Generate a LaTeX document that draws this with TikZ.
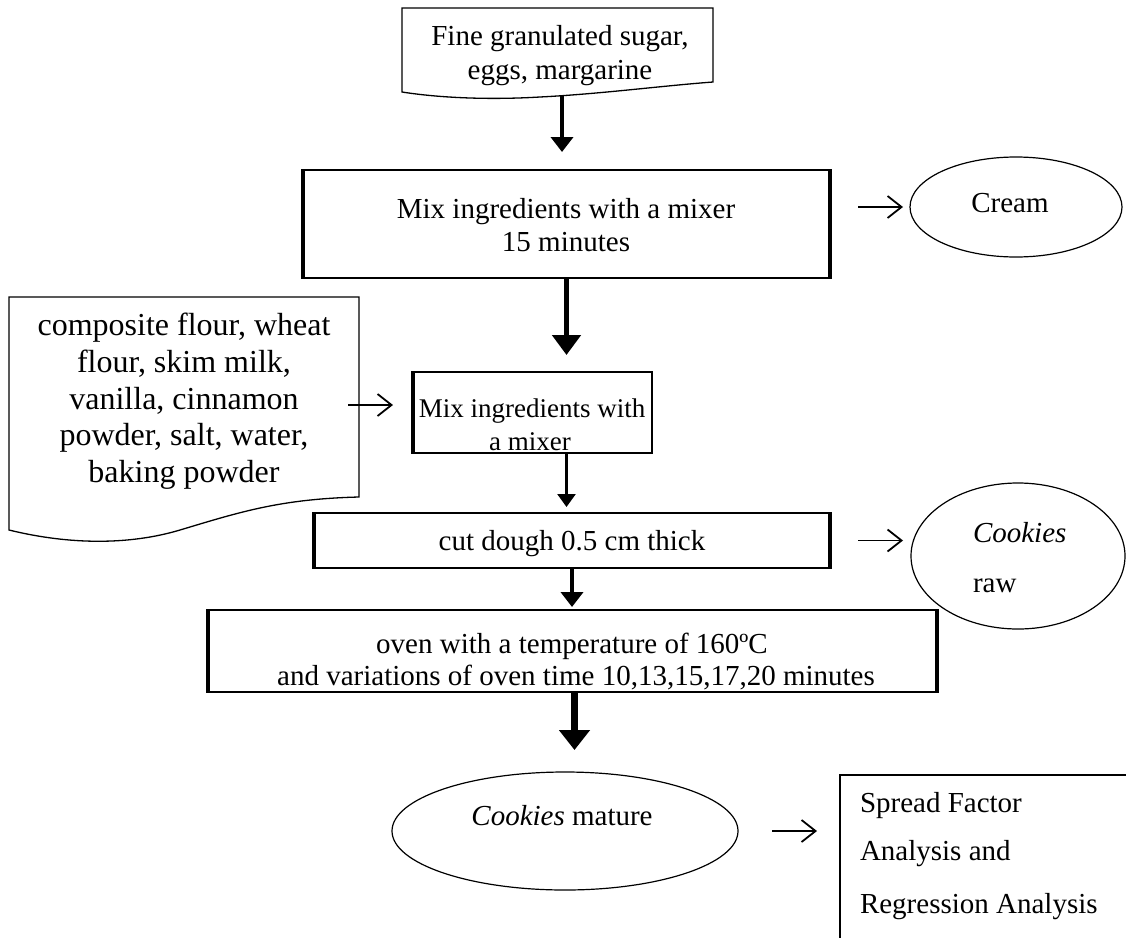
\documentclass[tikz,border=0pt]{standalone}
\usepackage{fontspec}
\setmainfont{Liberation Serif}
\usetikzlibrary{arrows.meta,shapes.geometric}
\newcommand\boxsides[1]{%
  \draw[line width=3.2pt] ([xshift=1pt]#1.north west) -- ([xshift=1pt]#1.south west);
  \draw[line width=3.2pt] ([xshift=-1pt]#1.north east) -- ([xshift=-1pt]#1.south east);
  \draw[line width=2.2pt] (#1.south west) -- (#1.south east);}
\begin{document}
\begin{tikzpicture}[x=1pt,y=-1pt,
  every node/.style={inner sep=0pt, outer sep=0pt},
  txt/.style={font=\fontsize{29}{33}\selectfont, anchor=base},
  bigtxt/.style={font=\fontsize{32}{36}\selectfont, anchor=base},
  midtxt/.style={font=\fontsize{27}{31}\selectfont, anchor=base},
  procbox/.style={draw, line width=1.2pt, rectangle},
  oval/.style={draw, line width=1.2pt, ellipse},
  docshape/.style={draw, line width=1.3pt},
  flow/.style={line width=#1, -{Triangle[length=15pt,width=22pt]}},
  sidearrow/.style={line width=1.8pt, -{Straight Barb[length=14pt,width=22pt]}}]
\useasboundingbox (0,0) rectangle (1126,937);

% document shapes
\draw[docshape] (402,8) -- (713,8) -- (713,82)
  .. controls (660,86) and (600,94) .. (540,97)
  .. controls (490,100) and (440,98) .. (402,92) -- cycle;
\node[txt] (t1a) at (560,45) {Fine granulated sugar,};
\node[txt] (t1b) at (560,79) {eggs, margarine};
\coordinate (topdocb) at (562,96);

\draw[docshape] (9,297) -- (359,297) -- (359,497)
  .. controls (280,499) and (240,512) .. (180,530)
  .. controls (130,545) and (70,545) .. (9,530) -- cycle;
\node[bigtxt] (l1) at (184,335) {composite flour, wheat};
\node[bigtxt] (l2) at (184,372) {flour, skim milk,};
\node[bigtxt] (l3) at (184,409) {vanilla, cinnamon};
\node[bigtxt] (l4) at (184,445) {powder, salt, water,};
\node[bigtxt] (l5) at (184,482) {baking powder};
\coordinate (leftdoce) at (348,405);

% process boxes
\node[procbox, minimum width=529pt, minimum height=108pt] (mix1) at (566.5,224) {};
\boxsides{mix1}
\node[txt] (m1a) at (566,218) {Mix ingredients with a mixer};
\node[txt] (m1b) at (566,251) {15 minutes};

\node[procbox, minimum width=240pt, minimum height=81pt] (mix2) at (532,412.5) {};
\draw[line width=3.2pt] ([xshift=1pt]mix2.north west) -- ([xshift=1pt]mix2.south west);
\node[midtxt] (m2a) at (532,417) {Mix ingredients with};
\node[midtxt] (m2b) at (530,450) {a mixer};

\node[procbox, minimum width=518pt, minimum height=55pt] (cut) at (572,540.5) {};
\boxsides{cut}
\node[txt] (c1) at (572,550) {cut dough 0.5 cm thick};

\node[procbox, minimum width=731pt, minimum height=82pt] (oven) at (572.5,651) {};
\boxsides{oven}
\node[txt] (o1) at (572,653) {oven with a temperature of 160ºC};
\node[txt] (o2) at (576,685) {and variations of oven time 10,13,15,17,20 minutes};

% ellipses
\node[oval, minimum width=212pt, minimum height=100pt] (cream) at (1016,207) {};
\node[txt] (cr) at (1010,212) {Cream};
\node[oval, minimum width=214pt, minimum height=146pt] (raw) at (1018,556) {};
\node[txt, anchor=base west] (rw1) at (973,542) {\itshape Cookies};
\node[txt, anchor=base west] (rw2) at (973,592) {raw};
\node[oval, minimum width=346pt, minimum height=118pt] (mature) at (565,831) {};
\node[txt] (mt) at (562,825) {\itshape Cookies\upshape{} mature};

% result box (cut by the picture edge)
\begin{scope}
\clip (0,0) rectangle (1126,937);
\node[procbox, anchor=north west, minimum width=320pt, minimum height=200pt] (res) at (840,775) {};
\end{scope}
\node[txt, anchor=base west] (r1) at (860,812) {Spread Factor};
\node[txt, anchor=base west] (r2) at (860,860) {Analysis and};
\node[txt, anchor=base west] (r3) at (860,913) {Regression Analysis};

% main flow arrows
\draw[flow=4pt, shorten >=18pt] (topdocb) -- (topdocb |- mix1.north);
\draw[line width=5pt, -{Triangle[length=20pt,width=28pt]}, shorten >=17pt]
  (mix1.south) -- (mix1.south |- mix2.north);
\draw[line width=2.6pt, -{Triangle[length=13pt,width=18pt]}, shorten >=6pt]
  (mix1.south |- mix2.south) -- (mix1.south |- cut.north);
\draw[flow=4pt, shorten >=3pt] (cut.south) -- (cut.south |- oven.north);
\draw[line width=6.5pt, -{Triangle[length=20pt,width=30pt]}, shorten >=22pt]
  ([xshift=2pt]oven.south) -- ([xshift=2pt]oven.south |- mature.north);

% side arrows
\draw[sidearrow, shorten <=27pt, shorten >=7pt] (mix1.east |- cream.west) -- (cream.west);
\draw[sidearrow, shorten >=19pt] (leftdoce) -- (leftdoce -| mix2.west);
\draw[sidearrow, shorten <=27pt, shorten >=8pt] (cut.east) -- (cut.east -| raw.west);
\draw[sidearrow, shorten <=34pt, shorten >=23pt] (mature.east) -- (mature.east -| res.west);
\end{tikzpicture}
\end{document}
